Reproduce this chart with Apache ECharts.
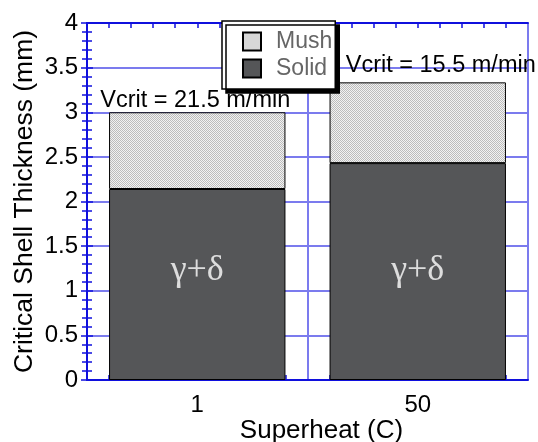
<!DOCTYPE html>
<html><head><meta charset="utf-8">
<script src="https://cdn.jsdelivr.net/npm/echarts@6/dist/echarts.min.js"></script>
<style>html,body{margin:0;padding:0;background:#fff}#c{width:538px;height:442px}</style>
</head><body><div id="c"></div>
<script>
const categories = ['1', '50'];
const solidValues = [2.14, 2.43];
const mushValues = [0.86, 0.905];
const vcritLabels = ['Vcrit = 21.5 m/min', 'Vcrit = 15.5 m/min'];
const phaseLabels = ['\u03b3+\u03b4', '\u03b3+\u03b4'];
const phaseLabelY = [1.23, 1.23];
const yTicks = [0, 0.5, 1, 1.5, 2, 2.5, 3, 3.5, 4];

const cv = document.createElement('canvas');
cv.width = 2; cv.height = 2;
const cx = cv.getContext('2d');
cx.fillStyle = '#f2f2f2'; cx.fillRect(0, 0, 2, 2);
cx.fillStyle = '#bcbcbc'; cx.fillRect(0, 0, 1, 1); cx.fillRect(1, 1, 1, 1);

const AX = '#1010dd', GR = '#7b7bee', FONT = 'Liberation Sans, Arial, sans-serif';
const labelOffsets = [[-2, 0], [23, -5]];

const chart = echarts.init(document.getElementById('c'));
chart.setOption({
  animation: false,
  textStyle: { fontFamily: FONT },
  grid: { left: 87, top: 23, right: 10, bottom: 62, outerBoundsMode: 'none', containLabel: false },
  legend: {
    data: ['Mush', 'Solid'], orient: 'vertical', left: 222, top: 21,
    padding: [9, 3, 9, 20], itemWidth: 18, itemHeight: 18, itemGap: 4,
    backgroundColor: '#fff', borderColor: '#000', borderWidth: 1.5,
    shadowColor: '#000', shadowBlur: 0, shadowOffsetX: 4, shadowOffsetY: 4,
    icon: 'rect',
    textStyle: { color: '#666', fontSize: 23, lineHeight: 18, padding: [0, 0, 0, 10], fontFamily: FONT }
  },
  xAxis: [
    { type: 'category', data: categories, position: 'bottom',
      axisLine: { lineStyle: { color: AX, width: 2 } }, axisTick: { show: false },
      axisLabel: { color: '#000', fontSize: 24, margin: 13, fontFamily: FONT },
      name: 'Superheat (C)', nameLocation: 'middle', nameGap: 38, nameMoveOverlap: false,
      nameTextStyle: { color: '#000', fontSize: 26, padding: [0, 0, 0, 28], fontFamily: FONT },
      splitLine: { show: false } },
    { type: 'value', min: 0, max: 2, interval: 1, position: 'bottom',
      axisLine: { show: false }, axisLabel: { show: false },
      axisTick: { show: false, inside: true },
      minorTick: { show: true, splitNumber: 10, length: 5, lineStyle: { color: AX, width: 1.5 } },
      splitLine: { show: true, lineStyle: { color: GR, width: 2 } } },
    { type: 'value', min: 0, max: 2, interval: 1, position: 'top',
      axisLine: { show: true, lineStyle: { color: AX, width: 2 } }, axisLabel: { show: false },
      axisTick: { show: false, inside: true },
      minorTick: { show: true, splitNumber: 10, length: 5, lineStyle: { color: AX, width: 1.5 } },
      splitLine: { show: false } }
  ],
  yAxis: [
    { type: 'value', min: 0, max: 4, interval: 0.5, position: 'left',
      axisLine: { show: true, lineStyle: { color: AX, width: 2 } },
      axisTick: { show: true, inside: true, length: 6, lineStyle: { color: AX, width: 1.5 } },
      minorTick: { show: true, splitNumber: 5, length: 5, lineStyle: { color: AX, width: 1.5 } },
      axisLabel: { color: '#000', fontSize: 24, margin: 9, fontFamily: FONT,
        formatter: v => yTicks.includes(v) ? String(v) : '' },
      splitLine: { show: true, lineStyle: { color: GR, width: 2 } },
      name: 'Critical Shell Thickness (mm)', nameLocation: 'middle', nameGap: 49, nameMoveOverlap: false,
      nameTextStyle: { color: '#000', fontSize: 26.5, fontFamily: FONT } },
    { type: 'value', min: 0, max: 4, interval: 0.5, position: 'right',
      axisLine: { show: true, lineStyle: { color: AX, width: 2 } },
      axisTick: { show: true, inside: true, length: 6, lineStyle: { color: AX, width: 1.5 } },
      minorTick: { show: true, splitNumber: 5, length: 5, lineStyle: { color: AX, width: 1.5 } },
      axisLabel: { show: false }, splitLine: { show: false } }
  ],
  series: [
    { name: 'Solid', type: 'bar', stack: 's', barWidth: '80%', xAxisIndex: 0, yAxisIndex: 0,
      data: solidValues,
      itemStyle: { color: '#555658', borderColor: '#000', borderWidth: 1 } },
    { name: 'Mush', type: 'bar', stack: 's', barWidth: '80%', xAxisIndex: 0, yAxisIndex: 0,
      data: mushValues.map((v, i) => ({ value: v, label: { offset: labelOffsets[i] } })),
      itemStyle: { color: { image: cv, repeat: 'repeat' }, borderColor: '#000', borderWidth: 1 },
      label: { show: true, position: 'top', distance: 0, color: '#000', fontSize: 23.5, fontFamily: FONT,
        formatter: p => vcritLabels[p.dataIndex] } },
    { name: 'phase', type: 'scatter', xAxisIndex: 0, yAxisIndex: 0, z: 5,
      symbolSize: 1, itemStyle: { color: 'rgba(0,0,0,0)' },
      data: phaseLabelY,
      label: { show: true, position: 'inside', color: '#fff', fontSize: 36,
        fontFamily: 'Liberation Serif, Times New Roman, serif',
        formatter: p => phaseLabels[p.dataIndex] } }
  ]
});
</script></body></html>
